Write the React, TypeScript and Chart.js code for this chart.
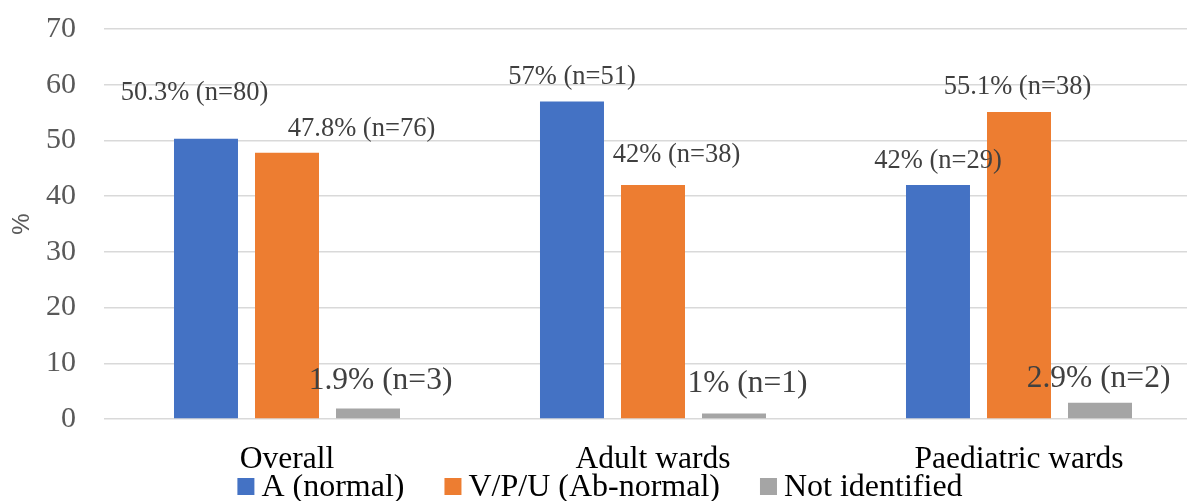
import React, { useEffect, useRef } from "react";
import { Chart, registerables } from "chart.js";

Chart.register(...registerables);

const categories = ["Overall", "Adult wards", "Paediatric wards"];
const seriesNames = ["A (normal)", "V/P/U (Ab-normal)", "Not identified"];
const normalPct = [50.3, 57, 42];
const abnormalPct = [47.8, 42, 55.1];
const notIdentifiedPct = [1.9, 1, 2.9];
const normalN = [80, 51, 29];
const abnormalN = [76, 38, 38];
const notIdentifiedN = [3, 1, 2];
const yMin = 0;
const yMax = 70;
const yStep = 10;

const colors = ["#4472C4", "#ED7D31", "#A5A5A5"];
// label placement offsets in px relative to bar top-centre [dx, dy]
const labelOffsets = [
  [[-11.5, -46], [0, -24], [0, -24]],
  [[74.5, -24], [23.5, -30], [-1.5, -25]],
  [[12.5, -28], [13.5, -30], [-1.5, -24]],
];
const labelFontSizes = [26.5, 26.5, 31.5];

const SERIF = '"Liberation Serif", "Times New Roman", serif';

export default function App() {
  const ref = useRef<HTMLCanvasElement>(null);

  useEffect(() => {
    const canvas = ref.current!;
    const counts = [normalN, abnormalN, notIdentifiedN];

    const dataLabels = {
      id: "dataLabels",
      afterDatasetsDraw(chart: any) {
        const ctx = chart.ctx;
        ctx.save();
        ctx.fillStyle = "#404040";
        ctx.textAlign = "center";
        ctx.textBaseline = "middle";
        chart.data.datasets.forEach((ds: any, i: number) => {
          const meta = chart.getDatasetMeta(i);
          ctx.font = `${labelFontSizes[i]}px ${SERIF}`;
          meta.data.forEach((bar: any, j: number) => {
            const [dx, dy] = labelOffsets[i][j];
            const text = `${ds.data[j]}% (n=${counts[i][j]})`;
            ctx.fillText(text, bar.x + dx, bar.y + dy);
          });
        });
        ctx.restore();
      },
    };

    const customLegend = {
      id: "customLegend",
      afterDraw(chart: any) {
        const ctx = chart.ctx;
        ctx.save();
        ctx.font = `32px ${SERIF}`;
        const box = 17;
        const boxGap = 7;
        const itemGap = 40;
        const widths = seriesNames.map((t) => ctx.measureText(t).width);
        const total =
          widths.reduce((a, w) => a + box + boxGap + w, 0) +
          itemGap * (seriesNames.length - 1);
        let x = 600 - total / 2;
        const yc = 488;
        seriesNames.forEach((t, i) => {
          ctx.fillStyle = colors[i];
          ctx.fillRect(x, yc - 10, box, box);
          ctx.fillStyle = "#000000";
          ctx.textAlign = "left";
          ctx.textBaseline = "middle";
          ctx.fillText(t, x + box + boxGap, yc);
          x += box + boxGap + widths[i] + itemGap;
        });
        ctx.restore();
      },
    };

    const chart = new Chart(canvas, {
      type: "bar",
      data: {
        labels: categories,
        datasets: [
          { label: seriesNames[0], data: normalPct, backgroundColor: colors[0] },
          { label: seriesNames[1], data: abnormalPct, backgroundColor: colors[1] },
          { label: seriesNames[2], data: notIdentifiedPct, backgroundColor: colors[2] },
        ],
      },
      options: {
        responsive: false,
        animation: false,
        devicePixelRatio: 1,
        layout: { padding: { top: 29, left: 0, right: 0, bottom: 0 } },
        datasets: {
          bar: { categoryPercentage: 0.664, barPercentage: 0.79 },
        },
        plugins: {
          legend: { display: false },
          tooltip: { enabled: false },
        },
        scales: {
          x: {
            grid: { display: false },
            border: { display: false },
            ticks: {
              font: { family: SERIF, size: 31.5 },
              color: "#000000",
              padding: 14,
              maxRotation: 0,
              autoSkip: false,
            },
            afterFit: (s: any) => {
              s.height = 82;
            },
          },
          y: {
            min: yMin,
            max: yMax,
            border: { display: false },
            grid: {
              color: "#D9D9D9",
              lineWidth: 1.5,
              drawTicks: true,
              tickLength: 28,
              tickColor: "rgba(0,0,0,0)",
            },
            ticks: {
              stepSize: yStep,
              font: { family: SERIF, size: 30 },
              color: "#595959",
              padding: 0,
            },
            title: {
              display: true,
              text: "%",
              color: "#595959",
              font: { family: '"Liberation Sans", Arial, sans-serif', size: 24 },
              padding: { top: 8, bottom: 0 },
            },
            afterFit: (s: any) => {
              s.width = 104;
            },
          },
        },
      },
      plugins: [dataLabels, customLegend],
    } as any);

    return () => chart.destroy();
  }, []);

  return (
    <div
      style={{
        position: "fixed",
        left: 0,
        top: 0,
        width: 1187,
        height: 501,
        overflow: "hidden",
        background: "#ffffff",
      }}
    >
      <canvas ref={ref} width={1202} height={501} style={{ display: "block" }} />
    </div>
  );
}
